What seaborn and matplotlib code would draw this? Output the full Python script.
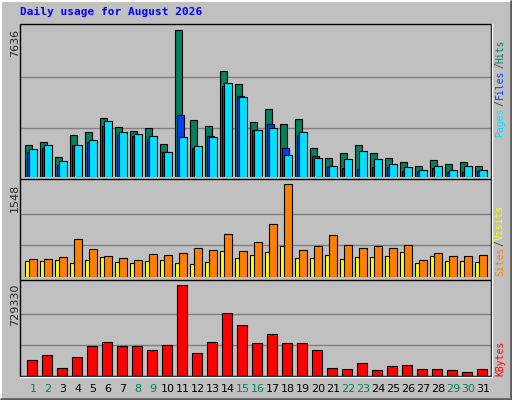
import numpy as np
import matplotlib
matplotlib.use("Agg")
import matplotlib.pyplot as plt
import seaborn as sns

days = list(range(1, 32))
hits = [1676, 1832, 1054, 2194, 2350, 3076, 2609, 2402, 2557, 1728, 7636, 2972, 2661, 5512, 4838, 2868,
        3542, 2765, 3024, 1521, 1002, 1261, 1676, 1261, 1002, 795, 588, 899, 691, 795, 588]
files = [1313, 1521, 639, 1676, 1832, 2661, 2194, 2143, 1987, 1313, 3231, 1521, 2143, 4735, 4216, 2454,
         2765, 1521, 2194, 1106, 536, 484, 432, 536, 536, 328, 328, 484, 276, 276, 328]
pages = [1469, 1676, 847, 1676, 1935, 2920, 2350, 2246, 2143, 1313, 2091, 1624, 2091, 4890, 4164, 2454,
         2557, 1158, 2350, 1002, 588, 950, 1365, 950, 691, 536, 380, 588, 380, 588, 380]
visits = [286, 286, 320, 623, 454, 337, 303, 269, 370, 353, 387, 471, 437, 707, 421, 572,
          875, 1548, 437, 505, 690, 522, 471, 505, 471, 522, 269, 387, 337, 337, 353]
sites = [252, 252, 269, 219, 269, 320, 236, 219, 252, 269, 219, 202, 236, 421, 303, 353,
         404, 505, 303, 303, 353, 286, 320, 320, 337, 404, 219, 337, 252, 252, 236]
kbytes = [128000, 168000, 64000, 152000, 240000, 272000, 240000, 240000, 208000, 248000, 729330, 184000,
          272000, 505000, 409000, 264000, 337000, 264000, 264000, 208000, 64000, 56000, 104000, 48000,
          80000, 88000, 56000, 56000, 48000, 32000, 56000]
weekend = [1, 2, 8, 9, 15, 16, 22, 23, 29, 30]

sns.set_style("white")
plt.rcParams['font.family'] = ['DejaVu Sans Mono']

W, H = 512, 400
fig = plt.figure(figsize=(W / 100, H / 100), dpi=100, facecolor="#c0c0c0")
d = np.array(days)
XL = (0.297, 0.297 + 471 / 15)

def panel(top, bottom):
    ax = fig.add_axes([20 / W, 1 - bottom / H, 471 / W, (bottom - top) / H])
    ax.set_facecolor("#c0c0c0")
    ax.set_xlim(*XL)
    ax.set_xticks([]); ax.set_yticks([])
    for s in ax.spines.values():
        s.set_visible(False)
    return ax

def grid(ax, m):
    ax.set_ylim(0, m / 0.96)
    for f in (0.335, 0.68):
        ax.axhline(m * f, color="#808080", lw=1, zorder=0)

ec = dict(edgecolor="black", linewidth=0.8, align="edge")
ax1 = panel(24, 177)
grid(ax1, max(hits))
ax1.bar(d - 0.35, hits, 0.47, color="#00805c", **ec)
ax1.bar(d - 0.237, files, 0.47, color="#0040ff", **ec)
ax1.bar(d - 0.07, pages, 0.47, color="#00e0ff", **ec)

ax2 = panel(180, 276.5)
grid(ax2, max(visits))
ax2.bar(d - 0.35, sites, 0.3, color="#ffff00", **ec)
ax2.bar(d - 0.07, visits, 0.47, color="#ff8000", **ec)

ax3 = panel(281, 375.5)
grid(ax3, max(kbytes))
ax3.bar(d - 0.23, kbytes, 0.67, color="#ff0000", **ec)

# frame and separators
fr = fig.add_axes([0, 0, 1, 1], facecolor="none")
fr.set_xlim(0, W); fr.set_ylim(H, 0); fr.axis("off")
fr.plot([0.5, 0.5, W - 0.5], [H - 0.5, 0.5, 0.5], color="white", lw=1.5)
fr.plot([1, W - 1, W - 1], [H - 1, H - 1, 1], color="#606060", lw=2)
fr.add_patch(plt.Rectangle((20, 24), 471, 352, fill=False, edgecolor="black", lw=1))
fr.plot([20, 491], [178.5, 178.5], color="black", lw=1)
fr.plot([20, 491], [280, 280], color="black", lw=1)
fr.plot([20, 491], [376.5, 376.5], color="white", lw=1)
fr.plot([491.5, 491.5], [24, 377], color="white", lw=1)

fr.text(20, 12, "Daily usage for August 2026", color="#0000ff", fontsize=8,
        fontweight="bold", va="center", ha="left")
for y, s in [(29, "7636"), (184, "1548"), (284, "729330")]:
    fr.text(15, y, s, rotation=90, ha="center", va="top", fontsize=8, family="DejaVu Sans")

# (text, colour, bottom y in pixels)
right_labels = [
    ("Pages", "#00e0ff", 137), ("/", "#404040", 106), ("Files", "#0040ff", 99),
    ("/", "#404040", 68), ("Hits", "#00805c", 63),
    ("Sites", "#ff8000", 276), ("/", "#404040", 246), ("Visits", "#ffff00", 240),
    ("KBytes", "#ff0000", 376),
]
for s, c, y in right_labels:
    fr.text(500, y, s, rotation=90, ha="center", va="bottom", fontsize=7, color=c)

for day in days:
    x = 20 + 15 * (day + 0.16 - XL[0])
    fr.text(x, 389, str(day), ha="center", va="center", fontsize=8, family="DejaVu Sans",
            color="#00805c" if day in weekend else "black")

fig.savefig("out.png", dpi=100, facecolor=fig.get_facecolor())
